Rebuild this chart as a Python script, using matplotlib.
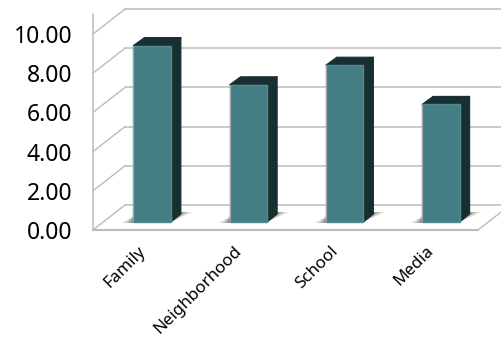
import matplotlib
matplotlib.use("Agg")
import matplotlib.pyplot as plt
from matplotlib.patches import Polygon
from matplotlib.transforms import Affine2D, IdentityTransform

categories = ["Family", "Neighborhood", "School", "Media"]
values = [9.0, 7.0, 8.0, 6.0]
y_ticks = [0, 2, 4, 6, 8, 10]
y_labels = ["0.00", "2.00", "4.00", "6.00", "8.00", "10.00"]

W, H = 502, 339
dpi = 100
fig = plt.figure(figsize=(W / dpi, H / dpi), dpi=dpi, facecolor="white")
L, R, B, T = 93, 478, 230, 34
ax = fig.add_axes([L / W, 1 - B / H, (R - L) / W, (B - T) / H])
ax.set_xlim(-0.5, 3.5)
ax.set_ylim(0, 10)
ax.patch.set_visible(False)
for s in ax.spines.values():
    s.set_visible(False)

FONT = "Noto Sans"
GRID = "#bcbcbc"
FACE = "#447e84"
DARK = "#182e30"
BAR_W = 0.39
BDX, BDY = 11, 8     # bar position and bar depth, pixels
WDX, WDY = 32, 25    # wall depth, pixels
I = IdentityTransform()


def disp(x, y, dx=0, dy=0):
    px, py = ax.transData.transform((x, y))
    return (px + dx, py + dy)


# walls and floor
for t in y_ticks:
    a, b = disp(-0.5, t), disp(-0.5, t, WDX, WDY)
    ax.add_line(plt.Line2D([a[0], b[0]], [a[1], b[1]], color=GRID, lw=1.0, transform=I, clip_on=False))
    c = (W + 2, b[1])
    ax.add_line(plt.Line2D([b[0], c[0]], [b[1], c[1]], color=GRID, lw=1.1, transform=I, clip_on=False))
a = disp(-0.5, 0)
e = disp(3.5, 0)
ax.add_line(plt.Line2D([a[0], a[0]], [a[1], H - 14], color=GRID, lw=1.1, transform=I, clip_on=False))
ax.add_line(plt.Line2D([a[0], e[0]], [a[1], a[1]], color=GRID, lw=1.5, transform=I, clip_on=False))
ax.add_line(plt.Line2D([e[0], e[0] + WDX], [e[1], e[1] + WDY], color=GRID, lw=1.0, transform=I, clip_on=False))

# bars
for i, v in enumerate(values):
    x0, x1 = i - BAR_W / 2, i + BAR_W / 2
    bl, br = disp(x0, 0, BDX, BDY), disp(x1, 0, BDX, BDY)
    tl, tr = disp(x0, v, BDX, BDY), disp(x1, v, BDX, BDY)
    # soft ground shadow: a wedge on each side of the bar foot
    for grow, alpha in [(12, 0.10), (9, 0.14), (6, 0.18), (3, 0.22), (0, 0.26)]:
        right = [br, (br[0] + 10 + grow, br[1] + 10), (br[0] + 8, br[1] + 10)]
        left = [(bl[0] - grow, bl[1] - 0.5), (bl[0] + 1, bl[1] - 0.5), (bl[0] + 1, bl[1] + 6)]
        for pts in (right, left):
            ax.add_patch(Polygon(pts, closed=True, fc="#2a2a2a", ec="none", alpha=alpha,
                                 transform=I, clip_on=False, zorder=3))
    # depth side and top
    side = [br, (br[0] + BDX - 1, br[1] + BDY), (tr[0] + BDX - 1, tr[1] + BDY), tr]
    top = [tl, (tl[0] + BDX, tl[1] + BDY), (tr[0] + BDX - 1, tr[1] + BDY), tr]
    for pts in (side, top):
        ax.add_patch(Polygon(pts, closed=True, fc=DARK, ec=DARK, lw=0.8, joinstyle="round",
                             transform=I, clip_on=False, zorder=4))
    # front face, shifted back to its depth position
    off = ax.transData + Affine2D().translate(BDX, BDY)
    ax.bar(i, v, width=BAR_W, color=FACE, edgecolor="#4f8a90", linewidth=1.0, transform=off,
           clip_on=False, zorder=5)
    ax.add_patch(Polygon([bl, tl], closed=False, fill=False, ec="#9aa8aa", lw=0.8, transform=I,
                         clip_on=False, zorder=6))

ax.set_yticks(y_ticks, y_labels, fontfamily=FONT, fontsize=16.5, color="black")
ax.set_xticks(range(len(categories)))
ax.set_xticklabels([])
ax.tick_params(axis="both", length=0)
ax.tick_params(axis="y", pad=15)

for i, c in enumerate(categories):
    px, py = disp(i, 0, -4, -13)
    ax.text(px, py, c, transform=I, rotation=45, rotation_mode="anchor", ha="right", va="top",
            fontfamily=FONT, fontsize=12.2, color="black", clip_on=False)

fig.savefig("out.png", dpi=dpi, facecolor="white")
